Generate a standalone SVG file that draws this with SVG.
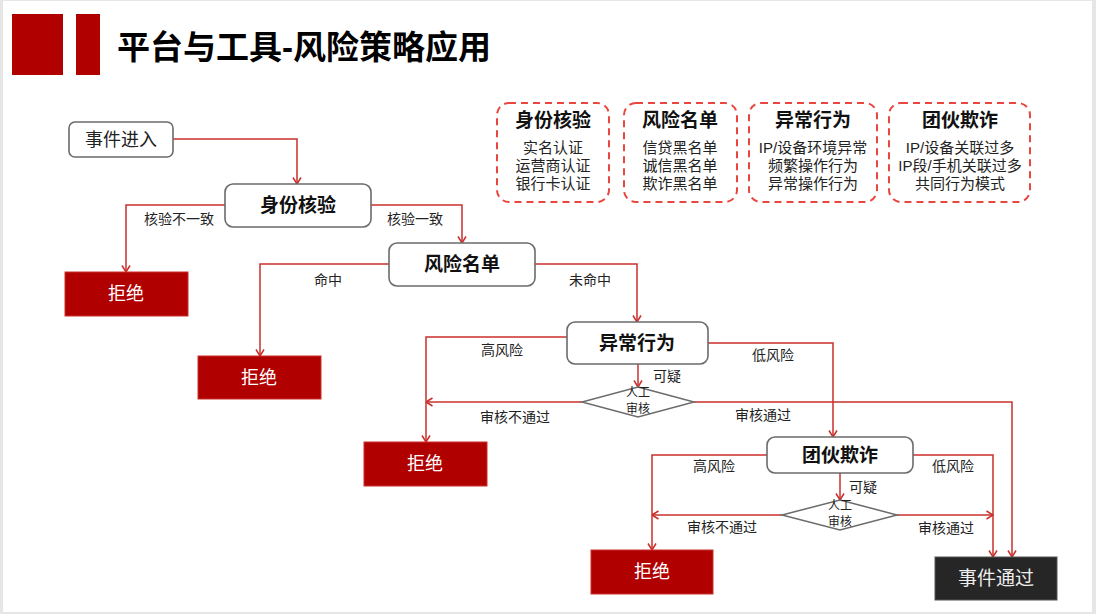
<svg xmlns="http://www.w3.org/2000/svg" width="1096" height="614" viewBox="0 0 1096 614">
<defs>
<style>
text{font-family:"Liberation Sans","Noto Sans CJK SC",sans-serif;text-anchor:middle}
.node{fill:#fff;stroke:#6b6b6b;stroke-width:1.6}
.rej{fill:#b00000;stroke:#c9302c;stroke-width:1}
.pass{fill:#262626;stroke:#555;stroke-width:1}
.nt{font-size:19px;font-weight:bold;fill:#111}
.wt{font-size:18px;fill:#fff}
.lbl{font-size:14px;fill:#222}
.dt{font-size:12px;fill:#222}
.leg{fill:none;stroke:#e8463f;stroke-width:2;stroke-dasharray:7 5}
.lt{font-size:19px;font-weight:bold;fill:#111}
.li{font-size:15px;fill:#222}
.ln{fill:none;stroke:#c9302c;stroke-width:1.5}
</style>
<marker id="ah" viewBox="0 0 10 10" refX="9.5" refY="5" markerWidth="10" markerHeight="10" markerUnits="userSpaceOnUse" orient="auto">
<path d="M3,1 L9.5,5 L3,9" fill="none" stroke="#c9302c" stroke-width="1.5"/>
</marker>
</defs>
<rect x="0" y="0" width="1096" height="614" fill="#e6e6e6"/>
<rect x="3" y="1" width="1089" height="611" fill="#fff"/>

<g id="title">
<rect x="12" y="14" width="51" height="61" fill="#b00000"/>
<rect x="76" y="14" width="24" height="61" fill="#b00000"/>
<text x="117" y="59" style="font-size:33px;font-weight:bold;fill:#000;text-anchor:start">平台与工具-风险策略应用</text>
</g>

<g id="legend">
<g id="leg1">
<rect class="leg" x="497" y="103" width="112" height="99" rx="12"/>
<text class="lt" x="553" y="127">身份核验</text>
<text class="li" x="553" y="153">实名认证</text>
<text class="li" x="553" y="171">运营商认证</text>
<text class="li" x="553" y="189">银行卡认证</text>
</g>
<g id="leg2">
<rect class="leg" x="624" y="103" width="113" height="99" rx="12"/>
<text class="lt" x="680" y="127">风险名单</text>
<text class="li" x="680" y="153">信贷黑名单</text>
<text class="li" x="680" y="171">诚信黑名单</text>
<text class="li" x="680" y="189">欺诈黑名单</text>
</g>
<g id="leg3">
<rect class="leg" x="749" y="103" width="128" height="99" rx="12"/>
<text class="lt" x="813" y="127">异常行为</text>
<text class="li" x="813" y="153">IP/设备环境异常</text>
<text class="li" x="813" y="171">频繁操作行为</text>
<text class="li" x="813" y="189">异常操作行为</text>
</g>
<g id="leg4">
<rect class="leg" x="889" y="103" width="141" height="99" rx="12"/>
<text class="lt" x="960" y="127">团伙欺诈</text>
<text class="li" x="960" y="153">IP/设备关联过多</text>
<text class="li" x="960" y="171">IP段/手机关联过多</text>
<text class="li" x="960" y="189">共同行为模式</text>
</g>
</g>

<g id="connectors">
<polyline class="ln" points="173,139 297,139 297,184" marker-end="url(#ah)"/>
<polyline class="ln" points="225,205 126,205 126,272" marker-end="url(#ah)"/>
<polyline class="ln" points="371,205 462,205 462,243" marker-end="url(#ah)"/>
<polyline class="ln" points="389,264 260,264 260,356" marker-end="url(#ah)"/>
<polyline class="ln" points="535,264 637,264 637,322" marker-end="url(#ah)"/>
<polyline class="ln" points="567,337 426,337 426,442" marker-end="url(#ah)"/>
<polyline class="ln" points="638,364 638,387" marker-end="url(#ah)"/>
<polyline class="ln" points="582,402 426,402" marker-end="url(#ah)"/>
<polyline class="ln" points="694,402 1012,402 1012,557" marker-end="url(#ah)"/>
<polyline class="ln" points="708,343 833,343 833,437" marker-end="url(#ah)"/>
<polyline class="ln" points="767,455 652,455 652,550" marker-end="url(#ah)"/>
<polyline class="ln" points="913,455 993,455 993,557" marker-end="url(#ah)"/>
<polyline class="ln" points="840,473 840,500" marker-end="url(#ah)"/>
<polyline class="ln" points="782,515 652,515" marker-end="url(#ah)"/>
<polyline class="ln" points="897,515 993,515" marker-end="url(#ah)"/>
<text class="lbl" x="179" y="224">核验不一致</text>
<text class="lbl" x="415" y="224">核验一致</text>
<text class="lbl" x="328" y="285">命中</text>
<text class="lbl" x="590" y="285">未命中</text>
<text class="lbl" x="502" y="355">高风险</text>
<text class="lbl" x="773" y="360">低风险</text>
<text class="lbl" x="667" y="381">可疑</text>
<text class="lbl" x="515" y="422">审核不通过</text>
<text class="lbl" x="763" y="420">审核通过</text>
<text class="lbl" x="714" y="471">高风险</text>
<text class="lbl" x="953" y="471">低风险</text>
<text class="lbl" x="863" y="492">可疑</text>
<text class="lbl" x="722" y="532">审核不通过</text>
<text class="lbl" x="946" y="533">审核通过</text>
</g>

<g id="n-start">
<rect class="node" x="69" y="122" width="104" height="35" rx="6"/>
<text x="121" y="146" style="font-size:18px;fill:#222">事件进入</text>
</g>
<g id="n-identity">
<rect class="node" x="225" y="184" width="146" height="43" rx="8"/>
<text class="nt" x="298" y="212">身份核验</text>
</g>
<g id="n-blacklist">
<rect class="node" x="389" y="243" width="146" height="43" rx="8"/>
<text class="nt" x="462" y="271">风险名单</text>
</g>
<g id="n-abnormal">
<rect class="node" x="567" y="322" width="141" height="42" rx="8"/>
<text class="nt" x="637" y="350">异常行为</text>
</g>
<g id="n-gang">
<rect class="node" x="767" y="437" width="146" height="36" rx="8"/>
<text class="nt" x="840" y="462">团伙欺诈</text>
</g>
<g id="n-review1">
<polygon points="638,387 694,402 638,417 582,402" fill="#fff" stroke="#6b6b6b" stroke-width="1.5"/>
<text class="dt" x="638" y="397">人工</text>
<text class="dt" x="638" y="413">审核</text>
</g>
<g id="n-review2">
<polygon points="840,500 897,515 840,530 782,515" fill="#fff" stroke="#6b6b6b" stroke-width="1.5"/>
<text class="dt" x="840" y="510">人工</text>
<text class="dt" x="840" y="526">审核</text>
</g>
<g id="n-reject1">
<rect class="rej" x="65" y="272" width="123" height="44"/>
<text class="wt" x="126" y="300">拒绝</text>
</g>
<g id="n-reject2">
<rect class="rej" x="198" y="356" width="123" height="43"/>
<text class="wt" x="259" y="384">拒绝</text>
</g>
<g id="n-reject3">
<rect class="rej" x="364" y="442" width="123" height="44"/>
<text class="wt" x="425" y="470">拒绝</text>
</g>
<g id="n-reject4">
<rect class="rej" x="591" y="550" width="122" height="44"/>
<text class="wt" x="652" y="578">拒绝</text>
</g>
<g id="n-pass">
<rect class="pass" x="935" y="557" width="122" height="43"/>
<text x="996" y="585" style="font-size:19px;fill:#eee">事件通过</text>
</g>
</svg>
